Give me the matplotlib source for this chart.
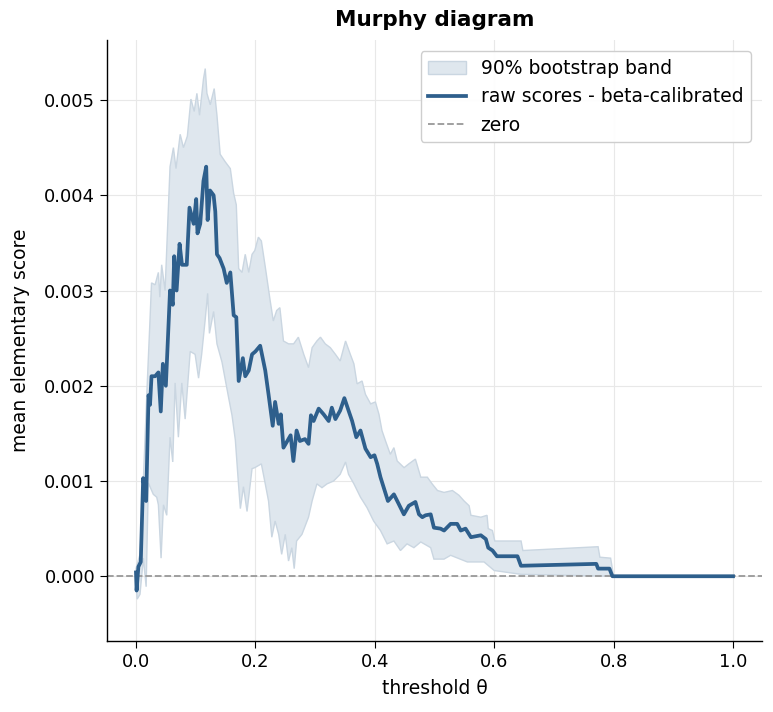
import numpy as np
import matplotlib
matplotlib.use("Agg")
import matplotlib.pyplot as plt

plt.rcParams.update({
    'font.size': 13,
    'font.family': 'DejaVu Sans',
    'axes.linewidth': 1.0,
})

line_color = '#2e5f8c'
band_color = '#dfe7ee'
band_edge = '#cad6e1'

# mean elementary score difference (raw - beta-calibrated)
theta = [0.0, 0.001, 0.004, 0.008, 0.012, 0.017, 0.021, 0.0235, 0.026, 0.032,
         0.0375, 0.0415, 0.045, 0.050, 0.057, 0.0616, 0.064, 0.068, 0.073, 0.077,
         0.085, 0.0896, 0.0966, 0.1008, 0.103, 0.1076, 0.113, 0.1176, 0.120, 0.124,
         0.130, 0.1328, 0.1356, 0.140, 0.1468, 0.152, 0.158, 0.1636, 0.168, 0.172,
         0.179, 0.183, 0.1888, 0.1944, 0.200, 0.208, 0.2165, 0.222, 0.229, 0.233,
         0.239, 0.2426, 0.247, 0.2535, 0.259, 0.2636, 0.269, 0.2745, 0.283, 0.289,
         0.293, 0.2975, 0.306, 0.3143, 0.3227, 0.328, 0.334, 0.342, 0.349, 0.356,
         0.362, 0.369, 0.376, 0.3843, 0.393, 0.3994, 0.404, 0.4095, 0.415, 0.422,
         0.432, 0.440, 0.4487, 0.457, 0.468, 0.474, 0.4796, 0.485, 0.4936, 0.499,
         0.510, 0.516, 0.527, 0.538, 0.544, 0.552, 0.561, 0.5776, 0.586, 0.590,
         0.5972, 0.6045, 0.639, 0.6448, 0.771, 0.774, 0.793, 0.798, 1.0]
score = [0.00004, -0.00015, 0.0001, 0.00015, 0.00103, 0.00079, 0.0019, 0.0018, 0.0021, 0.0021,
         0.00214, 0.00173, 0.00223, 0.0020, 0.0030, 0.00285, 0.00336, 0.0030, 0.00349, 0.00327,
         0.00327, 0.00387, 0.0037, 0.00396, 0.0036, 0.0037, 0.00415, 0.0043, 0.00374, 0.00405,
         0.0040, 0.00383, 0.00338, 0.00334, 0.00323, 0.00308, 0.00319, 0.00274, 0.00272, 0.00205,
         0.00229, 0.0021, 0.00216, 0.00233, 0.00236, 0.00242, 0.00216, 0.00191, 0.00158, 0.00183,
         0.0016, 0.0017, 0.00135, 0.00142, 0.00148, 0.00121, 0.00153, 0.00142, 0.00144, 0.00139,
         0.00169, 0.00163, 0.00176, 0.0017, 0.00163, 0.00177, 0.00165, 0.00174, 0.00187, 0.00174,
         0.00163, 0.00146, 0.00153, 0.00134, 0.00125, 0.00127, 0.00118, 0.00104, 0.00093, 0.00079,
         0.00086, 0.00076, 0.00065, 0.00074, 0.00078, 0.00065, 0.00062, 0.00064, 0.00065, 0.00051,
         0.0005, 0.00048, 0.00055, 0.00055, 0.00048, 0.0005, 0.00041, 0.00043, 0.00039, 0.0003,
         0.00027, 0.00021, 0.00021, 0.00011, 0.00013, 0.00008, 0.00008, 0.0, 0.0]

# upper edge of the 90% bootstrap band
theta_hi = [0.0, 0.0067, 0.0123, 0.018, 0.0235, 0.026, 0.032, 0.0375, 0.040, 0.043,
            0.0487, 0.057, 0.0627, 0.067, 0.074, 0.0795, 0.086, 0.092, 0.0975, 0.102,
            0.1064, 0.113, 0.116, 0.1188, 0.1244, 0.131, 0.1356, 0.141, 0.1496, 0.158,
            0.1636, 0.168, 0.172, 0.1776, 0.183, 0.1888, 0.1944, 0.199, 0.205, 0.210,
            0.2165, 0.2246, 0.230, 0.2356, 0.241, 0.247, 0.2555, 0.264, 0.272, 0.281,
            0.289, 0.295, 0.303, 0.309, 0.317, 0.3255, 0.334, 0.342, 0.351, 0.359,
            0.365, 0.3703, 0.3787, 0.3843, 0.393, 0.401, 0.407, 0.412, 0.418, 0.426,
            0.432, 0.4375, 0.449, 0.457, 0.468, 0.477, 0.488, 0.496, 0.505, 0.516,
            0.530, 0.541, 0.5496, 0.558, 0.561, 0.5776, 0.588, 0.590, 0.597, 0.601,
            0.645, 0.648, 0.774, 0.777, 0.795, 0.800, 1.0]
band_hi = [0.00008, 0.00023, 0.001, 0.0019, 0.0027, 0.00308, 0.00306, 0.00319, 0.00293, 0.00327,
           0.003, 0.0043, 0.0045, 0.00428, 0.00464, 0.0045, 0.00462, 0.00501, 0.00488, 0.00507,
           0.00484, 0.00522, 0.00533, 0.00507, 0.00495, 0.00512, 0.00484, 0.00443, 0.00435, 0.00428,
           0.00402, 0.0039, 0.00323, 0.00319, 0.00338, 0.00319, 0.00338, 0.00342, 0.00356, 0.00352,
           0.00325, 0.0029, 0.00268, 0.00279, 0.00282, 0.00247, 0.00244, 0.00244, 0.00251, 0.00233,
           0.00219, 0.0024, 0.00247, 0.00251, 0.00244, 0.0024, 0.00233, 0.00226, 0.00247, 0.00233,
           0.00223, 0.00202, 0.00205, 0.00191, 0.00181, 0.00183, 0.0017, 0.00153, 0.00142, 0.00128,
           0.00135, 0.00121, 0.00114, 0.00118, 0.00123, 0.00104, 0.00104, 0.00097, 0.0009, 0.00088,
           0.0009, 0.00085, 0.00079, 0.00074, 0.00064, 0.00062, 0.00064, 0.0005, 0.00048, 0.00037,
           0.00037, 0.00027, 0.00031, 0.0002, 0.00019, 0.0, 0.0]

# lower edge of the 90% bootstrap band
theta_lo = [0.0, 0.002, 0.0067, 0.0123, 0.017, 0.0207, 0.029, 0.0347, 0.0375, 0.042,
            0.046, 0.0515, 0.057, 0.0616, 0.0655, 0.071, 0.0767, 0.0823, 0.0908, 0.099,
            0.1048, 0.110, 0.116, 0.120, 0.123, 0.130, 0.1356, 0.144, 0.1496, 0.155,
            0.1608, 0.1664, 0.172, 0.1748, 0.180, 0.186, 0.1944, 0.199, 0.210, 0.2165,
            0.222, 0.2275, 0.233, 0.239, 0.244, 0.250, 0.2555, 0.261, 0.265, 0.269,
            0.278, 0.289, 0.295, 0.303, 0.3115, 0.320, 0.331, 0.342, 0.351, 0.356,
            0.365, 0.376, 0.387, 0.398, 0.4095, 0.4207, 0.432, 0.443, 0.454, 0.4655,
            0.477, 0.4936, 0.499, 0.516, 0.527, 0.555, 0.583, 0.600, 0.645, 0.800, 1.0]
band_lo = [-0.00008, -0.00024, -0.00019, 0.00019, -0.00011, 0.00098, 0.00086, 0.00083, 0.00075, 0.00019,
           0.00075, 0.00064, 0.00146, 0.0012, 0.00203, 0.00146, 0.00203, 0.00165, 0.00236, 0.00233,
           0.00208, 0.00233, 0.0027, 0.00297, 0.00255, 0.00278, 0.00244, 0.00225, 0.00206, 0.00188,
           0.00169, 0.00143, 0.00094, 0.00071, 0.00094, 0.00068, 0.00113, 0.00114, 0.00118, 0.00097,
           0.00079, 0.00041, 0.00058, 0.00044, 0.00023, 0.00044, 0.00016, 0.0003, 0.00008, 0.00037,
           0.00044, 0.00062, 0.00079, 0.00097, 0.00093, 0.00097, 0.001, 0.00107, 0.0012, 0.00107,
           0.00097, 0.00083, 0.00072, 0.00058, 0.00048, 0.00034, 0.00037, 0.00027, 0.00034, 0.0003,
           0.00036, 0.0003, 0.00018, 0.00018, 0.00022, 0.00015, 0.00015, 0.00006, 0.00002, 0.0, 0.0]

fig = plt.figure(figsize=(7.73, 7.12), dpi=100)
ax = fig.add_axes([0.1384, 0.0997, 0.8474, 0.8441])

band_x = np.r_[theta_hi, theta_lo[::-1]]
band_y = np.r_[band_hi, band_lo[::-1]]
ax.fill(band_x, band_y, facecolor=band_color, edgecolor=band_edge, linewidth=1.0,
        label='90% bootstrap band', zorder=1)
ax.plot(theta, score, color=line_color, linewidth=2.7, label='raw scores - beta-calibrated', zorder=3)
ax.axhline(0.0, color='#999999', linestyle='--', linewidth=1.3, label='zero', zorder=2)

ax.set_xlim(-0.0486, 1.0486)
ax.set_ylim(-0.00068, 0.00563)
ax.set_xticks([0.0, 0.2, 0.4, 0.6, 0.8, 1.0])
ax.set_yticks([0.0, 0.001, 0.002, 0.003, 0.004, 0.005])
ax.set_yticklabels(['0.000', '0.001', '0.002', '0.003', '0.004', '0.005'])
ax.grid(True, color='#e8e8e8', linewidth=0.8)
ax.set_axisbelow(True)
ax.spines['top'].set_visible(False)
ax.spines['right'].set_visible(False)
ax.tick_params(labelsize=13, length=5)

ax.set_xlabel('threshold θ', fontsize=13.5, labelpad=6)
ax.set_ylabel('mean elementary score', fontsize=13.5, labelpad=10)
ax.set_title('Murphy diagram', fontsize=15.5, fontweight='bold', pad=10)
ax.legend(loc='upper right', fontsize=13.5, framealpha=0.95, edgecolor='#cccccc',
          borderaxespad=0.6)

plt.savefig('out.png', dpi=100)
